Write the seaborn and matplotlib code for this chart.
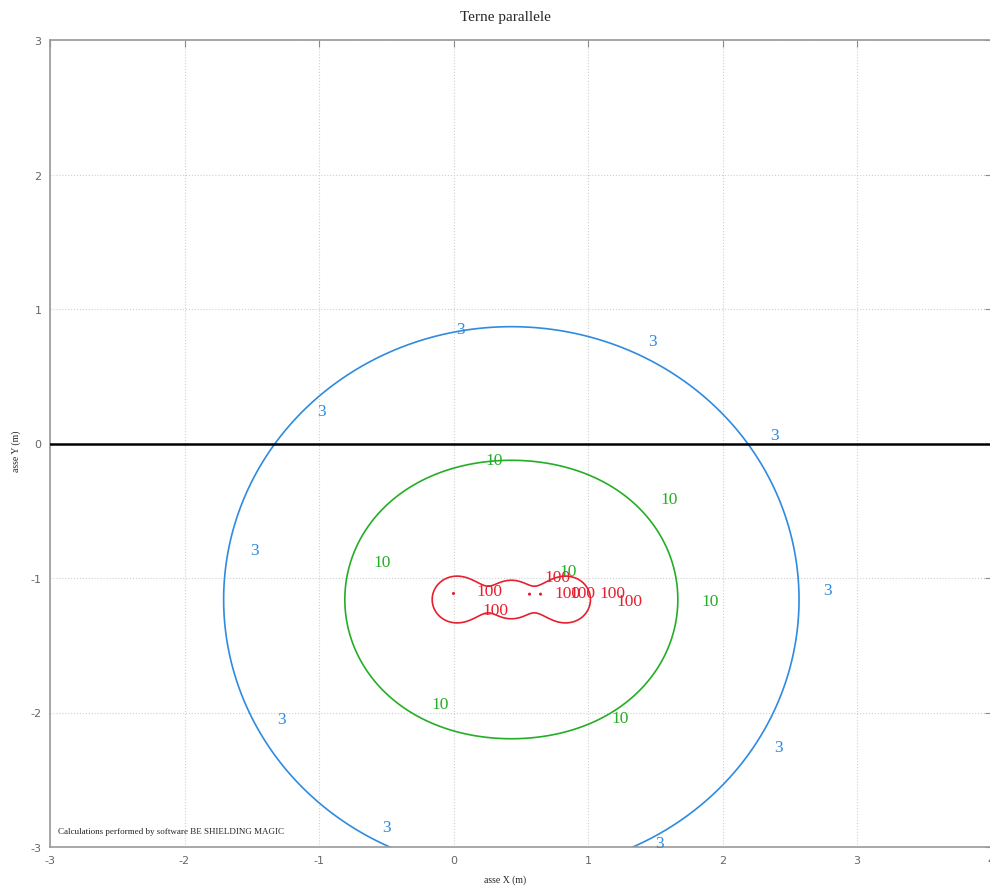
import numpy as np
import pandas as pd
import matplotlib
matplotlib.use("Agg")
import matplotlib.pyplot as plt
import seaborn as sns

# contour levels (uT) and their colours
levels = [3, 10, 100]
level_colors = ["#2e8be0", "#25ae25", "#e6202e"]

# three parallel triplets R-S-T laid flat (m, deg, A)
cable_x = [-0.01, 0.10, 0.21, 0.32, 0.43, 0.54, 0.65, 0.76, 0.87]
cable_y = [-1.16] * 9
cable_phase = [0, -120, 120, 0, -120, 120, 0, -120, 120]
cable_current = [114] * 9

# small red dots seen in the core
dot_x = [0.0, 0.565, 0.647]
dot_y = [-1.115, -1.12, -1.12]

# contour labels
lab3_x = [0.05, 1.48, -0.98, 2.39, -1.48, 2.78, -1.28, 2.42, -0.50, 1.53]
lab3_y = [0.85, 0.76, 0.24, 0.06, -0.79, -1.09, -2.05, -2.26, -2.85, -2.97]
lab10_x = [0.30, 1.60, -0.53, 1.91, -0.10, 1.24, 0.85]
lab10_y = [-0.12, -0.41, -0.88, -1.17, -1.94, -2.04, -0.95]
lab100_x = [0.27, 0.31, 0.77, 0.85, 0.96, 1.18, 1.31]
lab100_y = [-1.10, -1.24, -0.99, -1.11, -1.11, -1.11, -1.17]

cables = pd.DataFrame({"x": cable_x, "y": cable_y,
                       "phase": cable_phase, "I": cable_current})

# magnetic induction (rms) on a grid
gx = np.arange(-3.0, 4.0, 0.005)
gy = np.arange(-3.2, 3.05, 0.005)
X, Y = np.meshgrid(gx, gy)
Bx = np.zeros_like(X, dtype=complex)
By = np.zeros_like(X, dtype=complex)
for _, c in cables.iterrows():
    ph = c["I"] * np.exp(1j * np.deg2rad(c["phase"]))
    dx = X - c["x"]
    dy = Y - c["y"]
    r2 = dx**2 + dy**2 + 1e-9
    Bx += -0.2 * ph * dy / r2
    By += 0.2 * ph * dx / r2
B = np.sqrt(np.abs(Bx)**2 + np.abs(By)**2)

sns.set_style("whitegrid", {"grid.linestyle": ":", "grid.color": "#cfcfcf",
                            "axes.edgecolor": "#9a9a9a"})
plt.rcParams["font.family"] = ["Liberation Serif", "DejaVu Serif"]
plt.rcParams["axes.unicode_minus"] = False

fig = plt.figure(figsize=(9.9, 8.87), dpi=100)
ax = fig.add_axes([50 / 990, 39 / 887, 941.5 / 990, 807 / 887])

ax.contour(X, Y, B, levels=levels, colors=level_colors, linewidths=1.2)
sns.scatterplot(x=dot_x, y=dot_y, ax=ax, color=level_colors[2], s=5,
                edgecolor="none", legend=False)
ax.axhline(0, color="black", lw=1.8, zorder=3)

for xs, ys, txt, col in [(lab3_x, lab3_y, "3", level_colors[0]),
                         (lab10_x, lab10_y, "10", level_colors[1]),
                         (lab100_x, lab100_y, "100", level_colors[2])]:
    for x, y in zip(xs, ys):
        ax.text(x, y, txt, color=col, fontsize=12.5, ha="center",
                va="center", clip_on=False)

ax.set_xlim(-3, 4)
ax.set_ylim(-3, 3)
ax.set_xticks(range(-3, 5))
ax.set_yticks(range(-3, 4))
ax.grid(True, lw=0.8)
ax.tick_params(direction="in", length=5, color="#8a8a8a", top=True, right=True,
               labelsize=8, labelcolor="#666666", pad=6)
for lab in ax.get_xticklabels() + ax.get_yticklabels():
    lab.set_family("DejaVu Sans")
for s in ax.spines.values():
    s.set_linewidth(1.2)

ax.text(-2.94, -2.88, "Calculations performed by software BE SHIELDING MAGIC",
        fontsize=6.5, ha="left", va="center")
fig.text(505 / 990, 1 - 18 / 887, "Terne parallele", fontsize=11,
         ha="center", va="center")
fig.text(505 / 990, 1 - 880 / 887, "asse X (m)", fontsize=7,
         ha="center", va="center")
fig.text(16 / 990, 1 - 451 / 887, "asse Y (m)", fontsize=7, rotation=90,
         ha="center", va="center")

fig.savefig("out.png", dpi=100)
